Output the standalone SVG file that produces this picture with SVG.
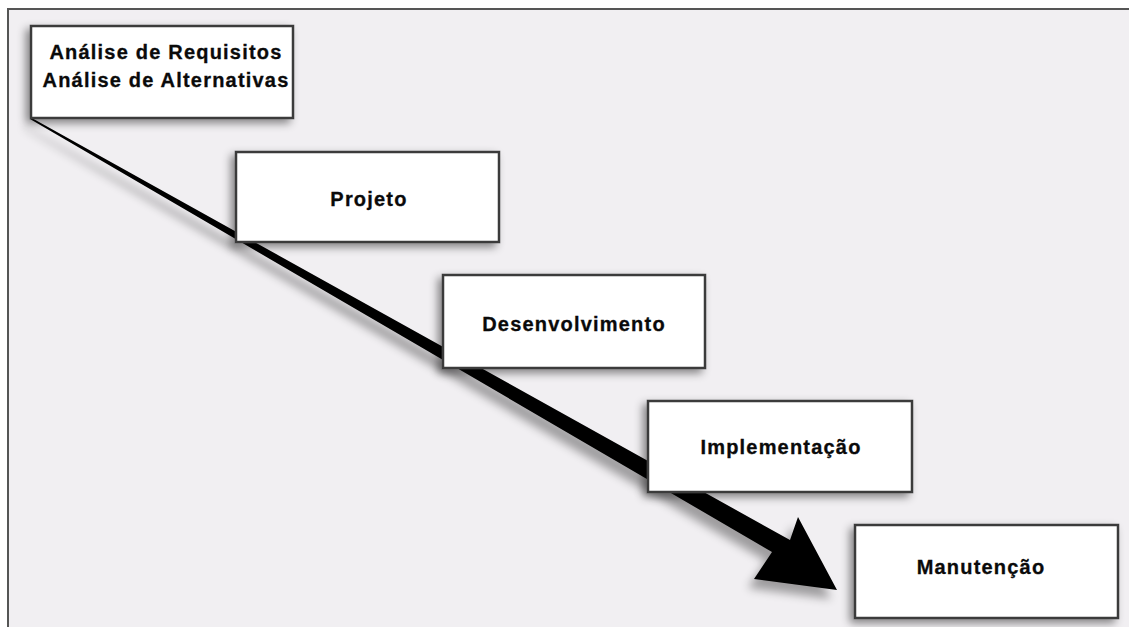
<svg xmlns="http://www.w3.org/2000/svg" width="1129" height="627" viewBox="0 0 1129 627">
  <defs>
    <filter id="boxShadow" x="-20%" y="-20%" width="140%" height="150%">
      <feDropShadow dx="-4" dy="4" stdDeviation="4" flood-color="#000" flood-opacity="0.45"/>
    </filter>
    <filter id="arrowShadow" x="-10%" y="-10%" width="120%" height="130%">
      <feGaussianBlur in="SourceAlpha" stdDeviation="5" result="b"/>
      <feOffset in="b" dx="-6" dy="9" result="o"/>
      <feComponentTransfer in="o" result="s">
        <feFuncA type="linear" slope="0.35"/>
      </feComponentTransfer>
      <feMerge>
        <feMergeNode in="s"/>
        <feMergeNode in="SourceGraphic"/>
      </feMerge>
    </filter>
    <style>
      .box { fill: #ffffff; stroke: #3a3a3a; stroke-width: 2.5; filter: url(#boxShadow); }
      .label { font-family: "Liberation Sans", Arial, sans-serif; font-weight: bold; font-size: 20px; letter-spacing: 1.2px; fill: #0a0a0a; stroke: #0a0a0a; stroke-width: 0.3; text-anchor: middle; }
    </style>
  </defs>

  <rect x="0" y="0" width="1129" height="627" fill="#ffffff"/>
  <rect x="8" y="9" width="1121" height="618" fill="#f1eff2"/>
  <line x1="7" y1="9" x2="1129" y2="9" stroke="#555" stroke-width="2"/>
  <line x1="8" y1="8" x2="8" y2="627" stroke="#555" stroke-width="2"/>

  <g id="connectors">
    <polygon points="30,117 790,540 798,517 837,590 754,579 772,552 30,119" fill="#050505" filter="url(#arrowShadow)"/>
  </g>

  <g id="node-analise">
    <rect class="box" x="31" y="26" width="262" height="92"/>
    <text class="label" x="166" y="59">Análise de Requisitos</text>
    <text class="label" x="166" y="87">Análise de Alternativas</text>
  </g>

  <g id="node-projeto">
    <rect class="box" x="236" y="152" width="263" height="90"/>
    <text class="label" x="369" y="206">Projeto</text>
  </g>

  <g id="node-desenvolvimento">
    <rect class="box" x="443" y="275" width="262" height="93"/>
    <text class="label" x="574" y="331">Desenvolvimento</text>
  </g>

  <g id="node-implementacao">
    <rect class="box" x="648" y="401" width="264" height="91"/>
    <text class="label" x="781" y="454">Implementação</text>
  </g>

  <g id="node-manutencao">
    <rect class="box" x="855" y="525" width="263" height="93"/>
    <text class="label" x="981" y="574">Manutenção</text>
  </g>
</svg>
